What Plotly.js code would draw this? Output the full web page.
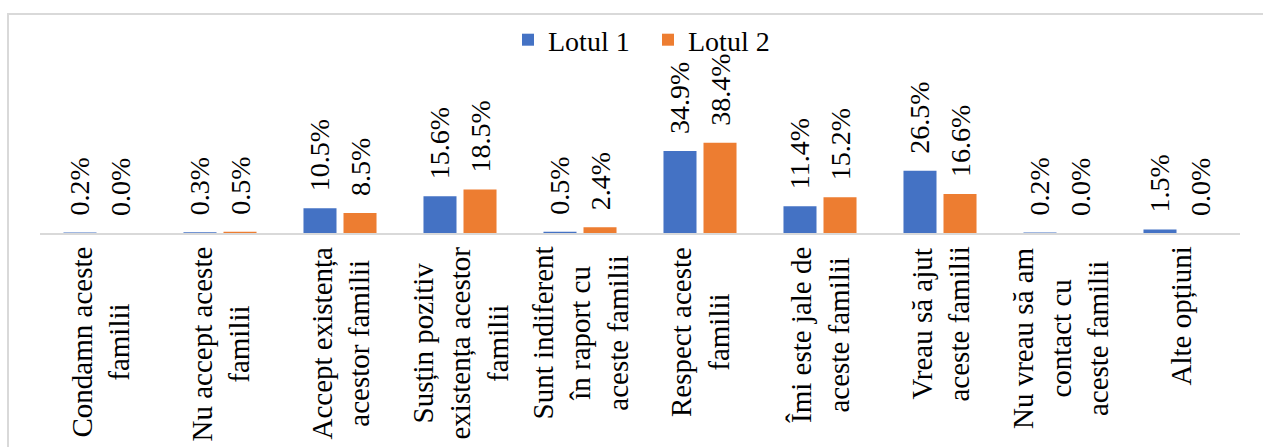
<!DOCTYPE html>
<html>
<head>
<meta charset="utf-8">
<script src="https://cdn.plot.ly/plotly-3.0.1.min.js"></script>
<style>
  html, body { margin: 0; padding: 0; background: #ffffff; }
  #chart { width: 1263px; height: 447px; }
</style>
</head>
<body>
<div id="chart"></div>
<script>
const categories = [
  "Condamn aceste<br>familii",
  "Nu accept aceste<br>familii",
  "Accept existența<br>acestor familii",
  "Susțin pozitiv<br>existența acestor<br>familii",
  "Sunt indiferent<br>în raport cu<br>aceste familii",
  "Respect aceste<br>familii",
  "Îmi este jale de<br>aceste familii",
  "Vreau să ajut<br>aceste familii",
  "Nu vreau să am<br>contact cu<br>aceste familii",
  "Alte opțiuni"
];
const seriesNames = ["Lotul 1", "Lotul 2"];
const lotul1 = [0.2, 0.3, 10.5, 15.6, 0.5, 34.9, 11.4, 26.5, 0.2, 1.5];
const lotul2 = [0.0, 0.5, 8.5, 18.5, 2.4, 38.4, 15.2, 16.6, 0.0, 0.0];

const FONT = 'Liberation Serif, Times New Roman, DejaVu Serif, serif';
const colors = ["#4472C4", "#ED7D31"];

// pixel helpers for layout geometry (plot area: x 40..1240, y 60..233)
const L = 40, R = 23, T = 60, B = 214, W = 1263, H = 447;
const pw = W - L - R, ph = H - T - B;
const px = v => (v - L) / pw;
const py = v => (H - B - v) / ph;

function barTrace(name, vals, color) {
  return {
    type: 'bar',
    name: name,
    x: categories,
    y: vals,
    marker: { color: color },
    texttemplate: '\u2002%{y:.1f}%',
    textposition: 'outside',
    textangle: -90,
    constraintext: 'none',
    cliponaxis: false,
    textfont: { family: FONT, size: 28, color: '#000000' },
    hoverinfo: 'x+y'
  };
}

const data = [
  barTrace(seriesNames[0], lotul1, colors[0]),
  barTrace(seriesNames[1], lotul2, colors[1])
];

const annotations = categories.map(c => ({
  xref: 'x', yref: 'paper',
  x: c, y: 0,
  yshift: -12,
  xanchor: 'center', yanchor: 'top',
  textangle: -90,
  align: 'center',
  showarrow: false,
  text: c,
  font: { family: FONT, size: 29, color: '#000000' }
}));

const layout = {
  width: W, height: H,
  margin: { l: L, r: R, t: T, b: B, pad: 0 },
  paper_bgcolor: '#ffffff',
  plot_bgcolor: '#ffffff',
  font: { family: FONT },
  barmode: 'group',
  bargap: 0.333,
  bargroupgap: 0.175,
  showlegend: true,
  legend: {
    orientation: 'h',
    x: px(508), xanchor: 'left',
    y: py(40), yanchor: 'middle',
    entrywidth: 95,
    font: { family: FONT, size: 28, color: '#000000' },
    bgcolor: 'rgba(0,0,0,0)',
    traceorder: 'normal'
  },
  xaxis: {
    type: 'category',
    showticklabels: false,
    ticks: '',
    showgrid: false,
    zeroline: false,
    showline: true,
    linecolor: '#d9d9d9',
    linewidth: 2,
    fixedrange: true
  },
  yaxis: {
    range: [0, 73.6],
    visible: false,
    showgrid: false,
    zeroline: false,
    fixedrange: true
  },
  annotations: annotations,
  shapes: [
    { type: 'line', xref: 'paper', yref: 'paper', layer: 'below',
      x0: px(7), x1: px(1263), y0: py(14), y1: py(14),
      line: { color: '#d9d9d9', width: 2 } },
    { type: 'line', xref: 'paper', yref: 'paper', layer: 'below',
      x0: px(8), x1: px(8), y0: py(14), y1: py(447),
      line: { color: '#d9d9d9', width: 2 } }
  ]
};

Plotly.newPlot('chart', data, layout, { displayModeBar: false, staticPlot: true });
</script>
</body>
</html>
